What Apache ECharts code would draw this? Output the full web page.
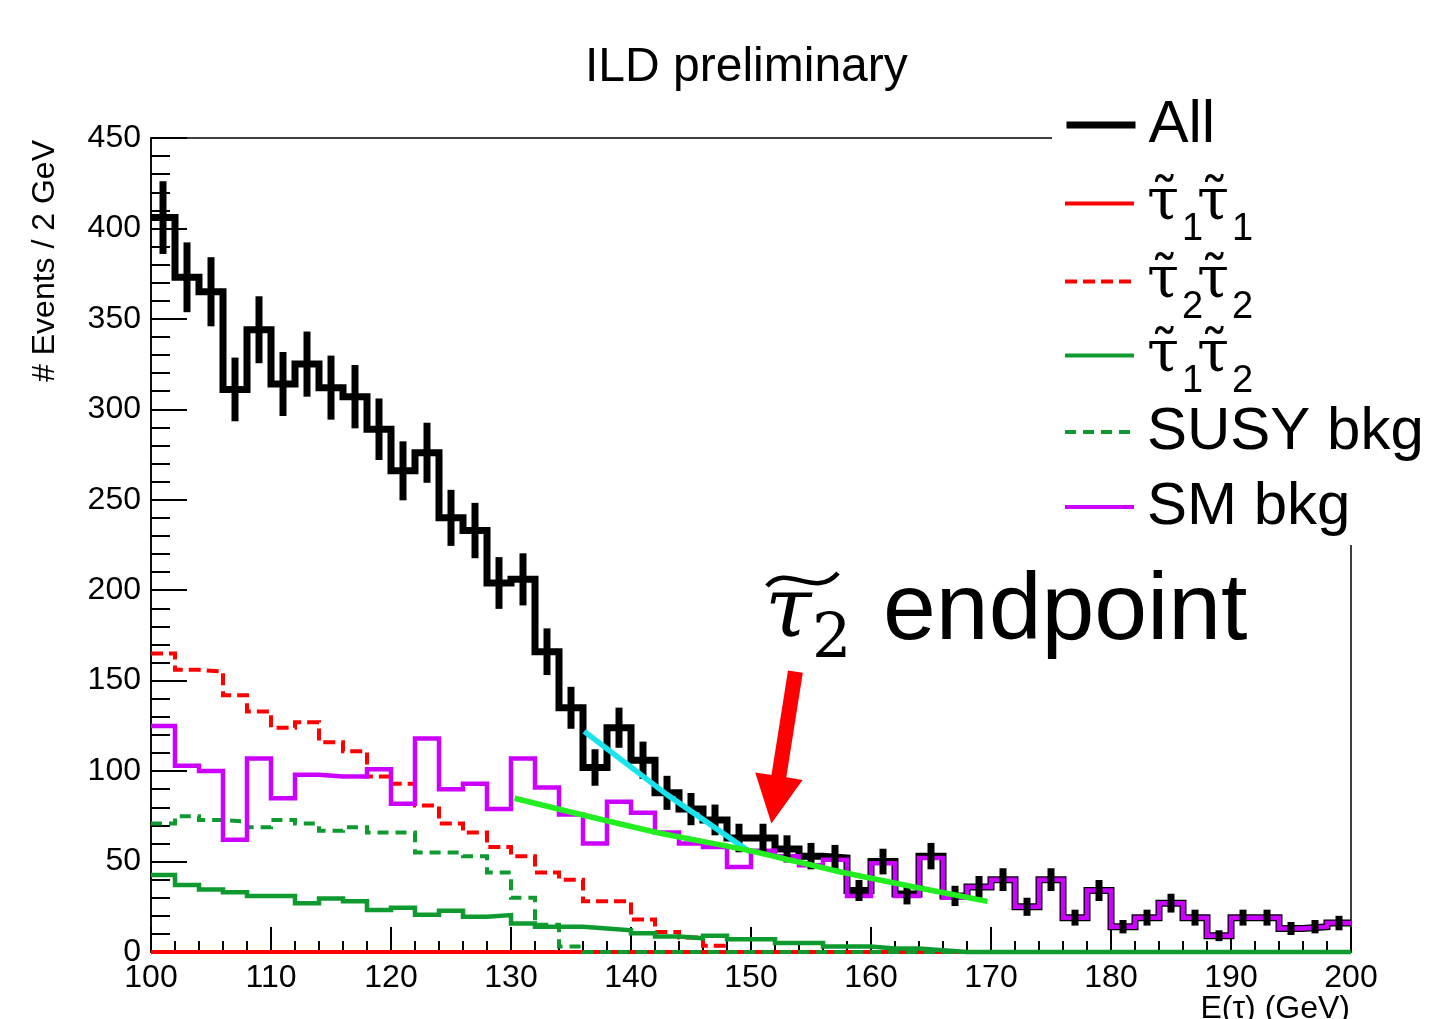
<!DOCTYPE html>
<html>
<head>
<meta charset="utf-8">
<script src="https://cdn.jsdelivr.net/npm/echarts@6.0.0/dist/echarts.min.js"></script>
<style>
html,body{margin:0;padding:0;background:#ffffff;}
#chart{width:1430px;height:1019px;}
</style>
</head>
<body>
<div id="chart"></div>
<script>
// ---------------- data ----------------
const binWidth = 2;
const binStarts = [100,102,104,106,108,110,112,114,116,118,120,122,124,126,128,130,132,134,136,138,
                   140,142,144,146,148,150,152,154,156,158,160,162,164,166,168,170,172,174,176,178,
                   180,182,184,186,188,190,192,194,196,198];

const allEvents = [406,373,365,311,344,314,325,312,307,289,266,276,240,233,204,206,166,135,102,124,
                   106,88,79,73,63,63,57,53,52,34,50,32,53,31,36,40,25,40,19,34,
                   14,19,27,19,9,19,19,13,14,16];
const allErrors = [20.1,19.3,19.1,17.6,18.5,17.7,18.0,17.7,17.5,17.0,16.3,16.6,15.5,15.3,14.3,14.4,12.9,11.6,10.1,11.1,
                   10.3,9.4,8.9,8.5,7.9,7.9,7.5,7.3,7.2,5.8,7.1,5.7,7.3,5.6,6.0,6.3,5.0,6.3,4.4,5.8,
                   3.7,4.4,5.2,4.4,3.0,4.4,4.4,3.6,3.7,4.0];
const smBkg = [125,103,100,62,107,85,98,97,97,101,82,118,90,93,79,107,91,76,60,83,
               77,66,60,58,47,56,53,48,51,31,49,31,52,30,36,40,25,40,19,34,
               14,19,27,19,9,19,19,13,14,16];
const stau11 = [0,0,0,0,0,0,0,0,0,0,0,0,0,0,0,0,0,0,0,0,
                0,0,0,0,0,0,0,0,0,0,0,0,0,0,0,0,0,0,0,0,
                0,0,0,0,0,0,0,0,0,0];
const stau22 = [165,156,155,142,133,124,127,116,111,97,93,81,71,66,58,53,44,40,28,28,
                18,11,8,3.5,0,0,0,0,0,0,0,0,0,0,0,0,0,0,0,0,
                0,0,0,0,0,0,0,0,0,0];
const stau12 = [42.5,37,34.6,33,31,31,27,29.6,28,23.2,24.4,20.6,22.8,19.5,20.4,15.8,14,14,13,12,
                10.3,8.5,7.6,9,7,7,5,5,3,3,2,2,1,0,0,0,0,0,0,0,
                0,0,0,0,0,0,0,0,0,0];
const susyBkg = [71,75,73,72,69,73,71,67,69,66,66,55,55,53,44,30,15,3,0,0,
                 0,0,0,0,0,0,0,0,0,0,0,0,0,0,0,0,0,0,0,0,
                 0,0,0,0,0,0,0,0,0,0];
const fitSteep = [[136.1,122],[143,87],[149.9,55.4]];
const fitShallow = [[130.3,85],[141.9,66.5],[149.9,56],[158,43.5],[169.7,28]];
const arrowTail = [153.7,155];
const arrowTip = [151.7,71];

const seriesNames = ['All','stau11','stau22','stau12','SUSY bkg','SM bkg'];
const legendLabels = {
  'All': 'All',
  'stau11': '{t|\u03C4\u0303}{s|1}{t|\u03C4\u0303}{s|1}',
  'stau22': '{t|\u03C4\u0303}{s|2}{t|\u03C4\u0303}{s|2}',
  'stau12': '{t|\u03C4\u0303}{s|1}{t|\u03C4\u0303}{s|2}',
  'SUSY bkg': 'SUSY bkg',
  'SM bkg': 'SM bkg'
};

// ---------------- helpers ----------------
function stepData(vals){
  const pts = vals.map((v,i)=>[binStarts[i], v]);
  pts.push([binStarts[binStarts.length-1] + binWidth, vals[vals.length-1]]);
  return pts;
}
const errData = allEvents.map((v,i)=>[binStarts[i] + binWidth/2, v, allErrors[i]]);

const FONT = 'Liberation Sans';
const chart = echarts.init(document.getElementById('chart'), null, {renderer:'canvas'});

function histSeries(name, vals, color, width, type, z){
  return {
    name: name, type:'line', data: stepData(vals), step:'end', symbol:'none', showSymbol:false,
    clip:false, silent:true, z:z, animation:false,
    emphasis:{disabled:true},
    lineStyle:{color:color, width:width, type:type, join:'miter', cap:'butt'},
    itemStyle:{color:color}
  };
}

const legendTops = {'All':125,'stau11':203,'stau22':281,'stau12':355,'SUSY bkg':432,'SM bkg':507};
const legends = seriesNames.map(n=>{
  const rich = legendLabels[n].indexOf('{') === 0;
  const blockH = rich ? 90 : 78;
  return {
    data:[n], left:1063, top: legendTops[n] - blockH/2, orient:'vertical', z:60,
    itemWidth:69, itemHeight:14, itemGap:0, padding:0, selectedMode:false,
    itemStyle:{color:'rgba(0,0,0,0)', borderWidth:0, opacity:0},
    lineStyle:{width: n === 'All' ? 7 : 4},
    formatter: name => legendLabels[name],
    textStyle: rich ? {
      color:'#000', lineHeight:64, padding:[0,0,0,8],
      rich:{
        t:{fontSize:58, fontFamily:'DejaVu Serif', lineHeight:64, width:35, color:'#000'},
        s:{fontSize:38, fontFamily:FONT, lineHeight:64, width:15, padding:[53,0,0,0], color:'#000'}
      }
    } : {color:'#000', fontSize:60, fontFamily:FONT, lineHeight:64, padding:[0,0,14,8]}
  };
});

const option = {
  animation:false,
  backgroundColor:'#ffffff',
  title:{text:'ILD preliminary', left:585, top:44, padding:0,
         textStyle:{fontSize:48, fontWeight:'normal', fontFamily:FONT, color:'#000'}},
  legend: legends,
  grid:{left:151, right:79, top:138, bottom:67, show:true, borderColor:'#000', borderWidth:1.5,
        backgroundColor:'transparent', containLabel:false},
  xAxis:{
    type:'value', min:100, max:200, interval:10,
    axisLine:{show:true, onZero:false, lineStyle:{color:'#000', width:1.5}},
    axisTick:{show:true, inside:true, length:25, lineStyle:{color:'#000', width:2}},
    minorTick:{show:true, splitNumber:5, length:11, lineStyle:{color:'#000', width:2}},
    splitLine:{show:false}, minorSplitLine:{show:false},
    axisLabel:{show:true, color:'#000', fontSize:32, fontFamily:FONT, margin:10,
               showMinLabel:true, showMaxLabel:true, hideOverlap:false}
  },
  yAxis:{
    type:'value', min:0, max:450, interval:50,
    axisLine:{show:true, onZero:false, lineStyle:{color:'#000', width:1.5}},
    axisTick:{show:true, inside:true, length:36, lineStyle:{color:'#000', width:2}},
    minorTick:{show:true, splitNumber:5, length:19, lineStyle:{color:'#000', width:2}},
    splitLine:{show:false}, minorSplitLine:{show:false},
    axisLabel:{show:true, color:'#000', fontSize:32, fontFamily:FONT, margin:10,
               showMinLabel:true, showMaxLabel:true, hideOverlap:false}
  },
  series:[
    histSeries('stau11', stau11, '#FF0000', 4, 'solid', 2),
    histSeries('stau22', stau22, '#FF0000', 4, [12,6], 3),
    histSeries('SUSY bkg', susyBkg, '#0E9A2E', 4, [11,7], 4),
    histSeries('stau12', stau12, '#0E9A2E', 4.5, 'solid', 5),
    histSeries('All', allEvents, '#000000', 7, 'solid', 6),
    histSeries('SM bkg', smBkg, '#CC00FF', 4.5, 'solid', 7),
    {
      name:'All errors', type:'custom', data:errData, z:8, silent:true, clip:false, animation:false,
      encode:{x:0, y:1},
      renderItem:function(params, api){
        const x = api.value(0), y = api.value(1), e = api.value(2);
        const p1 = api.coord([x, y - e]);
        const p2 = api.coord([x, y + e]);
        return {type:'line', shape:{x1:p1[0], y1:p1[1], x2:p2[0], y2:p2[1]},
                style:{stroke:'#000', lineWidth:7, lineCap:'butt'}};
      }
    },
    {name:'fit steep', type:'line', data:fitSteep, symbol:'none', smooth:false, z:9, silent:true,
     clip:false, lineStyle:{color:'#18E4EE', width:5.5}},
    {name:'fit shallow', type:'line', data:fitShallow, symbol:'none', smooth:0.3, z:9, silent:true,
     clip:false, lineStyle:{color:'#22EE22', width:5.5}}
  ],
  graphic:[
    {id:'legendBg', type:'rect', shape:{x:1052, y:88, width:378, height:457}, style:{fill:'#ffffff'}, z:50, silent:true},
    {id:'ytitle', type:'text', x:45, y:140, rotation:Math.PI/2, z:60, silent:true,
     style:{text:'# Events / 2 GeV', fontSize:32, fontFamily:FONT, fill:'#000',
            align:'right', verticalAlign:'middle', textAlign:'right', textVerticalAlign:'middle'}},
    {id:'xtitle', type:'text', x:1350, y:993, z:60, silent:true,
     style:{text:'E(\u03C4) (GeV)', fontSize:32, fontFamily:FONT, fill:'#000',
            align:'right', verticalAlign:'top', textAlign:'right', textVerticalAlign:'top'}},
    {id:'endTau', type:'text', x:765, y:614, z:60, silent:true,
     style:{text:'\u03C4', fontSize:84, fontFamily:'DejaVu Serif', fontStyle:'italic', fill:'#000',
            align:'left', verticalAlign:'middle', textAlign:'left', textVerticalAlign:'middle'}},
    {id:'endSub', type:'text', x:812, y:641, z:60, silent:true,
     style:{text:'2', fontSize:62, fontFamily:'DejaVu Serif', fill:'#000',
            align:'left', verticalAlign:'middle', textAlign:'left', textVerticalAlign:'middle'}},
    {id:'endTilde', type:'bezierCurve', z:60, silent:true,
     shape:{x1:767, y1:586, cpx1:787, cpy1:562, cpx2:815, cpy2:600, x2:838, y2:573},
     style:{stroke:'#000', lineWidth:4.5, fill:null}},
    {id:'endText', type:'text', x:883, y:613, z:60, silent:true,
     style:{text:'endpoint', fontSize:95, fontFamily:FONT, fill:'#000',
            align:'left', verticalAlign:'middle', textAlign:'left', textVerticalAlign:'middle'}}
  ]
};
chart.setOption(option);

// arrow annotation, anchored in data coordinates
const pT = chart.convertToPixel({gridIndex:0}, arrowTail);
const pH = chart.convertToPixel({gridIndex:0}, arrowTip);
const dx = pH[0]-pT[0], dy = pH[1]-pT[1];
const L = Math.sqrt(dx*dx+dy*dy);
const ux = dx/L, uy = dy/L, nx = -uy, ny = ux;
const headLen = 48, headHalf = 24, shaftHalf = 7.5;
const bx = pH[0]-ux*headLen, by = pH[1]-uy*headLen;
const poly = [
  [pT[0]+nx*shaftHalf, pT[1]+ny*shaftHalf],
  [bx+nx*shaftHalf, by+ny*shaftHalf],
  [bx+nx*headHalf, by+ny*headHalf],
  [pH[0], pH[1]],
  [bx-nx*headHalf, by-ny*headHalf],
  [bx-nx*shaftHalf, by-ny*shaftHalf],
  [pT[0]-nx*shaftHalf, pT[1]-ny*shaftHalf]
];
chart.setOption({graphic:[{id:'arrow', type:'polygon', z:60, silent:true, shape:{points:poly}, style:{fill:'#FF0000'}}]});
</script>
</body>
</html>
